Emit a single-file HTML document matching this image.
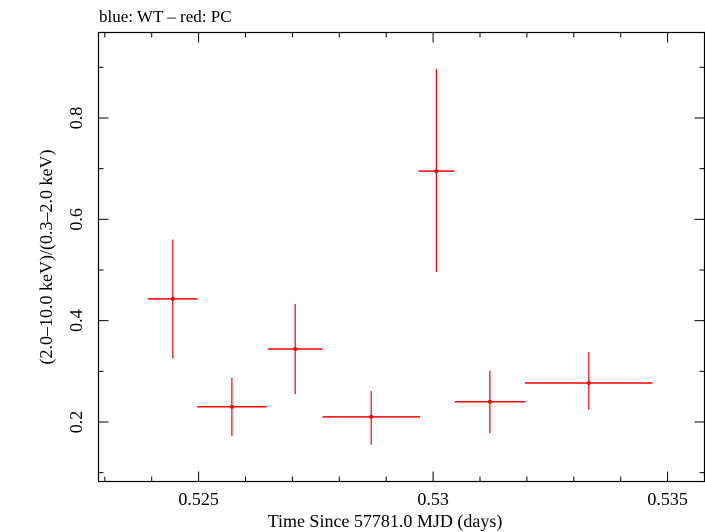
<!DOCTYPE html>
<html><head><meta charset="utf-8"><style>
html,body{margin:0;padding:0;background:#fff;}
svg{display:block;font-family:"Liberation Serif",serif;}
</style></head><body>
<svg id="chart" width="705" height="532">
<text x="99" y="22" font-size="17">blue: WT – red: PC</text>
<rect x="98.5" y="32.5" width="606" height="449" fill="none" stroke="#000" stroke-width="1.2"/>
<g id="ticks"></g>
<g id="marks"></g>
<text x="385" y="527" font-size="18" text-anchor="middle">Time Since 57781.0 MJD (days)</text>
<text transform="translate(52,257) rotate(-90)" font-size="18" text-anchor="middle">(2.0–10.0 keV)/(0.3–2.0 keV)</text>
</svg>
<script>
const times=[0.52445,0.52571,0.52706,0.52868,0.53007,0.53121,0.53332];
const timeErr=[0.00053,0.00074,0.00058,0.00104,0.00038,0.00075,0.00136];
const ratios=[0.443,0.230,0.344,0.210,0.695,0.240,0.277];
const ratioLo=[0.325,0.172,0.255,0.155,0.496,0.178,0.224];
const ratioHi=[0.560,0.287,0.433,0.261,0.897,0.301,0.338];
const xTickLabels=["0.525","0.53","0.535"];
const xTickValues=[0.525,0.530,0.535];
const yTickLabels=["0.2","0.4","0.6","0.8"];
const yTickValues=[0.2,0.4,0.6,0.8];

const X0=98.5,X1=704.5,Y0=32.5,Y1=481.5;
function xs(v){return 198.6+(v-0.525)*46900;}
function ys(v){return 422-(v-0.2)*506.7;}
const NS="http://www.w3.org/2000/svg";
function mk(tag,attrs,parent){const e=document.createElementNS(NS,tag);for(const k in attrs)e.setAttribute(k,attrs[k]);parent.appendChild(e);return e;}
const tg=document.getElementById('ticks');
// x minor ticks
for(let i=0;i<=14;i++){const v=0.523+i*0.001;const x=xs(v);if(x<X0||x>X1)continue;
 const major=Math.abs(((v*1000)%5))<1e-6||Math.abs(((v*1000)%5)-5)<1e-6;const L=major?10:5;
 const a=mk('line',{x1:x,x2:x,y1:Y1,y2:Y1-L,stroke:'#000','stroke-width':1},tg);
 
 
 const b=mk('line',{x1:x,x2:x,y1:Y0,y2:Y0+L,stroke:'#000','stroke-width':1},tg);
 
 }
for(let i=0;i<=9;i++){const v=0.1*i;const y=ys(v);if(y<Y0||y>Y1)continue;
 const major=(i%2===0);const L=major?10:5;
 const a=mk('line',{x1:X0,x2:X0+L,y1:y,y2:y,stroke:'#000','stroke-width':1},tg);
 
 
 const b=mk('line',{x1:X1,x2:X1-L,y1:y,y2:y,stroke:'#000','stroke-width':1},tg);
 
 }
xTickValues.forEach((v,i)=>{const t=mk('text',{x:xs(v),y:505,'font-size':18,'text-anchor':'middle'},tg);t.textContent=xTickLabels[i];
 
 });
yTickValues.forEach((v,i)=>{const t=mk('text',{transform:`translate(82,${ys(v)}) rotate(-90)`,'font-size':18,'text-anchor':'middle'},tg);t.textContent=yTickLabels[i];
 
 });
const mg=document.getElementById('marks');
times.forEach((t,i)=>{const g=mk('g',{},mg);
 
 
 mk('line',{x1:xs(t-timeErr[i]),x2:xs(t+timeErr[i]),y1:ys(ratios[i]),y2:ys(ratios[i]),stroke:'#f00','stroke-width':1.5},g);
 mk('line',{x1:xs(t),x2:xs(t),y1:ys(ratioLo[i]),y2:ys(ratioHi[i]),stroke:'#f00','stroke-width':1.2},g);
 mk('circle',{cx:xs(t),cy:ys(ratios[i]),r:2,fill:'#f00'},g);});
</script>
</body></html>
